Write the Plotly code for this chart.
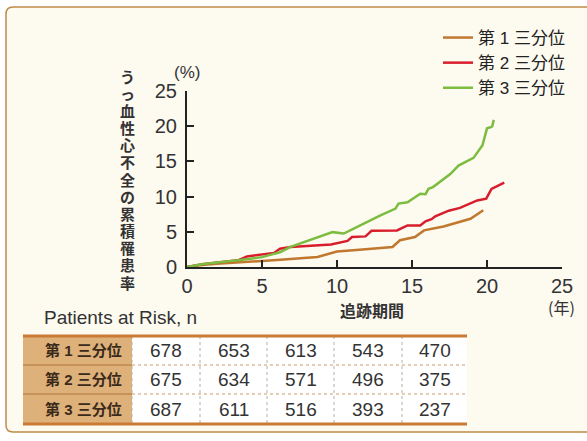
import plotly.graph_objects as go

# ---- data ----
series_names = ["第 1 三分位", "第 2 三分位", "第 3 三分位"]
series_colors = ["#c0782e", "#d81e2c", "#7cbc3e"]

t1_years = [0, 1, 2, 4, 6, 8.7, 10.0, 11.5, 13.7, 14.2, 15.2, 15.8, 17.1, 18.9, 19.75]
t1_cum = [0, 0.3, 0.45, 0.7, 1.0, 1.42, 2.2, 2.45, 2.84, 3.8, 4.25, 5.2, 5.75, 6.85, 8.05]

t2_years = [0, 1, 3.4, 4.0, 5.8, 6.2, 6.9, 9.6, 10.7, 11.0, 11.9, 12.3, 14.0, 14.7,
            15.55, 15.9, 16.3, 16.55, 17.45, 18.2, 19.35, 19.95, 20.3, 21.15]
t2_cum = [0, 0.4, 0.95, 1.5, 2.0, 2.6, 2.85, 3.2, 3.7, 4.25, 4.35, 5.15, 5.2, 5.9,
          5.9, 6.5, 6.8, 7.2, 8.0, 8.4, 9.45, 9.7, 11.1, 12.0]

t3_years = [0, 1, 3.4, 5, 6.2, 6.9, 9.7, 10.45, 11.55, 12.9, 13.9, 14.1, 14.7, 15.55,
            15.9, 16.1, 16.4, 17.55, 18.1, 19.1, 19.7, 20.0, 20.3, 20.35, 20.45]
t3_cum = [0, 0.4, 0.95, 1.4, 2.1, 2.85, 4.95, 4.75, 5.9, 7.35, 8.3, 9.0, 9.2, 10.4,
          10.35, 11.1, 11.35, 13.2, 14.4, 15.5, 17.3, 19.7, 19.9, 20.0, 20.9]

x_ticks = [0, 5, 10, 15, 20, 25]
y_ticks = [0, 5, 10, 15, 20, 25]

risk_title = "Patients at Risk, n"
risk_rows = ["第 1 三分位", "第 2 三分位", "第 3 三分位"]
risk1 = [678, 653, 613, 543, 470]
risk2 = [675, 634, 571, 496, 375]
risk3 = [687, 611, 516, 393, 237]
risk_values = [risk1, risk2, risk3]

y_title = "うっ血性心不全の累積罹患率"
x_title = "追跡期間"
x_unit = "(年)"
y_unit = "(%)"

# ---- layout geometry (pixels) ----
W, H = 587, 441
L, R, T, B = 187, 562, 91, 267
PW, PH = R - L, B - T


def xp(px):
    return (px - L) / PW


def yp(py):
    return (B - py) / PH


FONT = "Liberation Sans, Arial, Noto Sans CJK JP, sans-serif"
JFONT = "Noto Sans CJK JP, sans-serif"

fig = go.Figure()
for xs, ys, name, col in [(t1_years, t1_cum, series_names[0], series_colors[0]),
                          (t2_years, t2_cum, series_names[1], series_colors[1]),
                          (t3_years, t3_cum, series_names[2], series_colors[2])]:
    fig.add_trace(go.Scatter(x=xs, y=ys, mode="lines", name=name,
                             line=dict(color=col, width=2.5, shape="linear")))

shapes = []
annotations = []

# background panel with rounded corners
px0, py0, px1, py1, rad = 6, 7, 600, 432, 7
path = (f"M {xp(px0+rad)},{yp(py0)} L {xp(px1)},{yp(py0)} L {xp(px1)},{yp(py1)} "
        f"L {xp(px0+rad)},{yp(py1)} Q {xp(px0)},{yp(py1)} {xp(px0)},{yp(py1-rad)} "
        f"L {xp(px0)},{yp(py0+rad)} Q {xp(px0)},{yp(py0)} {xp(px0+rad)},{yp(py0)} Z")
shapes.append(dict(type="path", xref="paper", yref="paper", path=path,
                   fillcolor="#fdfaf0", line=dict(color="#c08a48", width=1.5), layer="below"))

# risk table
tx0, tx_hdr, tx1 = 23, 132, 467
col_edges = [132, 200, 267, 334, 402, 467]
row_edges = [336, 365, 394, 424]
shapes.append(dict(type="rect", xref="paper", yref="paper",
                   x0=xp(tx0), x1=xp(tx_hdr), y0=yp(row_edges[0]), y1=yp(row_edges[-1]),
                   fillcolor="#deb07a", line=dict(width=0), layer="below"))
shapes.append(dict(type="rect", xref="paper", yref="paper",
                   x0=xp(tx_hdr), x1=xp(tx1), y0=yp(row_edges[0]), y1=yp(row_edges[-1]),
                   fillcolor="#ffffff", line=dict(width=0), layer="below"))
for ry in row_edges[1:-1]:
    shapes.append(dict(type="line", xref="paper", yref="paper",
                       x0=xp(tx0), x1=xp(tx_hdr), y0=yp(ry), y1=yp(ry),
                       line=dict(color="#b0733a", width=1)))
    shapes.append(dict(type="line", xref="paper", yref="paper",
                       x0=xp(tx_hdr), x1=xp(tx1), y0=yp(ry), y1=yp(ry),
                       line=dict(color="#c89a6a", width=1, dash="dot")))
for cx in col_edges[:-1]:
    shapes.append(dict(type="line", xref="paper", yref="paper",
                       x0=xp(cx), x1=xp(cx), y0=yp(row_edges[0]), y1=yp(row_edges[-1]),
                       line=dict(color="#b8b0a0", width=1, dash="dot")))
for ry in (row_edges[0], row_edges[-1]):
    shapes.append(dict(type="line", xref="paper", yref="paper",
                       x0=xp(tx0), x1=xp(tx1), y0=yp(ry), y1=yp(ry),
                       line=dict(color="#c97a34", width=3)))

for i, (rname, vals) in enumerate(zip(risk_rows, risk_values)):
    cy = (row_edges[i] + row_edges[i + 1]) / 2
    annotations.append(dict(xref="paper", yref="paper", x=xp(83), y=yp(cy),
                            text=f"<b>{rname}</b>", showarrow=False,
                            font=dict(family=FONT, size=15, color="#3a2a1a"),
                            xanchor="center", yanchor="middle"))
    for j, v in enumerate(vals):
        cx = (col_edges[j] + col_edges[j + 1]) / 2
        annotations.append(dict(xref="paper", yref="paper", x=xp(cx), y=yp(cy),
                                text=str(v), showarrow=False,
                                font=dict(family=FONT, size=19, color="#333333"),
                                xanchor="center", yanchor="middle"))

annotations.append(dict(xref="paper", yref="paper", x=xp(42), y=yp(317), text=risk_title,
                        showarrow=False, font=dict(family=FONT, size=19, color="#333333"),
                        xanchor="left", yanchor="middle"))
annotations.append(dict(xref="paper", yref="paper", x=xp(372), y=yp(310),
                        text=f"<b>{x_title}</b>", showarrow=False,
                        font=dict(family=JFONT, size=16, color="#333333"),
                        xanchor="center", yanchor="middle"))
annotations.append(dict(xref="paper", yref="paper", x=xp(561), y=yp(307), text=x_unit,
                        showarrow=False, font=dict(family=JFONT, size=16, color="#333333"),
                        xanchor="center", yanchor="middle"))
annotations.append(dict(xref="paper", yref="paper", x=xp(187), y=yp(72), text=y_unit,
                        showarrow=False, font=dict(family=FONT, size=17, color="#333333"),
                        xanchor="center", yanchor="middle"))
# vertical y-axis title, one character per line
n_ch = len(y_title)
ytop, ybot = 77, 283
for k, ch in enumerate(y_title):
    cy = ytop + (ybot - ytop) * k / (n_ch - 1)
    annotations.append(dict(xref="paper", yref="paper", x=xp(127), y=yp(cy),
                            text=f"<b>{ch}</b>", showarrow=False, borderpad=0,
                            font=dict(family=FONT, size=15, color="#333333"),
                            xanchor="center", yanchor="middle"))

axis_common = dict(showline=True, linecolor="#222222", linewidth=2, ticks="inside",
                   ticklen=7, tickwidth=2, tickcolor="#222222", showgrid=False,
                   zeroline=False, tickfont=dict(family=FONT, size=20, color="#333333"))

fig.update_layout(
    width=W, height=H,
    margin=dict(l=L, r=W - R, t=T, b=H - B, pad=0),
    paper_bgcolor="#ffffff", plot_bgcolor="rgba(0,0,0,0)",
    xaxis=dict(range=[0, 25], tickvals=x_ticks, ticklabelstandoff=0, **axis_common),
    yaxis=dict(range=[0, 25], tickvals=y_ticks, ticklabelstandoff=4, **axis_common),
    legend=dict(x=xp(438), y=yp(20), xanchor="left", yanchor="top",
                bgcolor="rgba(0,0,0,0)", font=dict(family=FONT, size=17, color="#222222"),
                itemwidth=30, tracegroupgap=0),
    showlegend=True,
    shapes=shapes, annotations=annotations,
)

fig.write_html("out.html", config={"displayModeBar": False},
               post_script="document.body.style.margin='0';")
